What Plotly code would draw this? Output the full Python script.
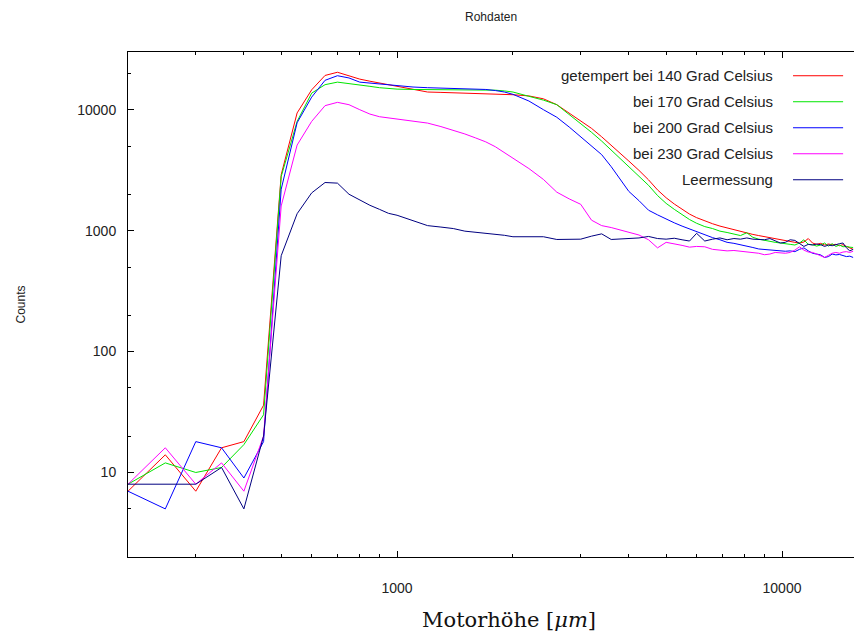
import plotly.graph_objects as go

# Motor height positions (µm)
motor_um = [200, 250, 300, 350, 400, 450, 500, 550, 600, 650, 700, 750, 800, 850, 900, 950, 1000,
            1100, 1200, 1300, 1400, 1500, 1600, 1700, 1800, 1900, 2000,
            2200, 2400, 2600, 2800, 3000, 3200, 3400, 3600, 3800, 4000,
            4250, 4500, 4750, 5000, 5250, 5500, 5750, 6000,
            6300, 6600, 6900, 7200, 7500, 7800, 8100, 8400, 8700, 9000, 9300, 9600, 9900,
            10200, 10500, 10800, 11100, 11400, 11700, 12000, 12300, 12600, 12900, 13200,
            13500, 13800, 14100, 14400, 14700, 15000, 15300]

# Raw counts per sample
counts_140 = [7, 14, 7, 16, 18, 36, 2900, 9400, 14600, 19200, 20400, 19100, 17900, 17200, 16600, 16000, 15600,
              14700, 14000, 13900, 13800, 13700, 13700, 13600, 13600, 13500, 13300,
              13000, 12300, 11000, 9400, 8140, 7010, 5970, 5100, 4360, 3760,
              3150, 2630, 2170, 1870, 1660, 1500, 1370, 1280,
              1200, 1140, 1090, 1050, 1020, 990, 960, 930, 910, 890, 875, 860, 845,
              830, 815, 800, 790, 805, 860, 790, 770, 785, 760, 775,
              765, 770, 750, 765, 740, 720, 700]

counts_170 = [8, 12, 10, 11, 17, 30, 2800, 8000, 13700, 16100, 16900, 16500, 16000, 15600, 15200, 15000, 14800,
              14700, 14700, 14600, 14600, 14600, 14600, 14600, 14500, 14300, 14000,
              12900, 12000, 11000, 9100, 7750, 6500, 5500, 4650, 3920, 3380,
              2840, 2370, 1950, 1680, 1500, 1350, 1235, 1150,
              1080, 1040, 990, 965, 940, 910, 960, 880, 850, 830, 815, 800, 790,
              775, 770, 760, 790, 840, 770, 765, 745, 760, 790, 745,
              780, 740, 760, 735, 740, 730, 725]

counts_200 = [7, 5, 18, 16, 9, 18, 2200, 7800, 12700, 17500, 19100, 18300, 16900, 16600, 16500, 16200, 15800,
              15400, 15200, 15100, 15000, 14900, 14800, 14700, 14400, 14000, 13400,
              11800, 10000, 8660, 7190, 6000, 5050, 4250, 3380, 2650, 2110,
              1770, 1475, 1350, 1245, 1160, 1090, 1030, 980,
              930, 875, 840, 800, 785, 766, 745, 725, 705, 698, 690, 690, 680,
              675, 680, 670, 700, 720, 680, 650, 640, 630, 600, 610,
              640, 630, 635, 620, 610, 615, 600]

counts_230 = [8, 16, 8, 12, 7, 20, 1600, 5100, 8000, 10800, 11500, 11000, 10000, 9200, 8750, 8550, 8400,
              8100, 7750, 7250, 6790, 6300, 5840, 5420, 4940, 4420, 3990,
              3260, 2650, 2080, 1830, 1650, 1220, 1100, 1060, 1015, 975,
              920, 840, 720, 800, 780, 755, 730, 740,
              735, 700, 690, 680, 685, 675, 670, 665, 650, 632, 640, 660, 655,
              650, 660, 690, 735, 690, 665, 660, 640, 620, 600, 625,
              650, 660, 650, 665, 670, 660, 675]

counts_empty = [8, 8, 8, 11, 5, 20, 620, 1380, 2050, 2500, 2470, 2000, 1780, 1620, 1500, 1390, 1340,
                1210, 1100, 1070, 1040, 990, 970, 955, 940, 915, 890,
                890, 890, 845, 845, 850, 900, 940, 845, 850, 860,
                870, 895, 860, 850, 865, 840, 820, 950,
                820, 850, 870, 840, 860, 850, 870, 850, 845, 840, 860, 830, 790,
                800, 840, 830, 780, 740, 770, 760, 775, 765, 740, 760,
                750, 770, 780, 790, 720, 680, 700]

series_names = ["getempert bei 140 Grad Celsius", "bei 170 Grad Celsius",
                "bei 200 Grad Celsius", "bei 230 Grad Celsius", "Leermessung"]
series_colors = ["#ff0000", "#00e600", "#0000ff", "#ff00ff", "#000080"]
series_values = [counts_140, counts_170, counts_200, counts_230, counts_empty]

x_ticks = [1000, 10000]
y_ticks = [10, 100, 1000, 10000]

SANS = "Liberation Sans, Arial, sans-serif"

fig = go.Figure()
for name, color, vals in zip(series_names, series_colors, series_values):
    fig.add_trace(go.Scatter(x=motor_um, y=vals, mode="lines", name=name,
                             line=dict(color=color, width=1), showlegend=False))

# Hand-drawn key: right-aligned labels with a line sample to their right
legend_top = 0.953
legend_step = 0.0515
for i, (name, color) in enumerate(zip(series_names, series_colors)):
    yy = legend_top - i * legend_step
    fig.add_annotation(x=0.891, y=yy, xref="paper", yref="paper", text=name,
                       showarrow=False, xanchor="right", yanchor="middle",
                       font=dict(family=SANS, size=15, color="#222222"))
    fig.add_shape(type="line", xref="paper", yref="paper",
                  x0=0.916, x1=0.985, y0=yy, y1=yy,
                  line=dict(color=color, width=1))

# Axis titles
fig.add_annotation(x=0, y=0.5, xref="paper", yref="paper", text="Counts",
                   showarrow=False, textangle=-90, xshift=-108,
                   xanchor="center", yanchor="middle",
                   font=dict(family=SANS, size=12, color="#222222"))
fig.add_annotation(x=0.525, y=0, xref="paper", yref="paper",
                   text="Motorhöhe [<i>μm</i>]", showarrow=False, yshift=-63,
                   yanchor="middle",
                   font=dict(family="DejaVu Serif, serif", size=21, color="#111111"))

fig.update_layout(
    width=854, height=636,
    margin=dict(l=128, r=0, t=52, b=79),
    paper_bgcolor="white", plot_bgcolor="white",
    title=dict(text="Rohdaten", x=0.575, xanchor="center", y=1 - 17 / 636,
               yanchor="middle", font=dict(family=SANS, size=12, color="#222222")),
    xaxis=dict(type="log", range=[2.30103, 4.187], showgrid=False, zeroline=False,
               showline=True, linecolor="black", linewidth=1, mirror="ticks",
               ticks="inside", ticklen=6, tickcolor="black",
               tickvals=x_ticks, ticktext=[str(v) for v in x_ticks],
               ticklabelstandoff=18,
               tickfont=dict(family=SANS, size=14, color="#222222"),
               minor=dict(ticks="inside", ticklen=3, tickcolor="black", dtick="D1")),
    yaxis=dict(type="log", range=[0.30103, 4.4771], showgrid=False, zeroline=False,
               showline=True, linecolor="black", linewidth=1, mirror=False,
               ticks="inside", ticklen=6, tickcolor="black",
               tickvals=y_ticks, ticktext=[str(v) for v in y_ticks],
               ticklabelstandoff=8,
               tickfont=dict(family=SANS, size=14, color="#222222"),
               minor=dict(ticks="inside", ticklen=3, tickcolor="black", dtick="D2")),
)

fig.write_html("out.html")
